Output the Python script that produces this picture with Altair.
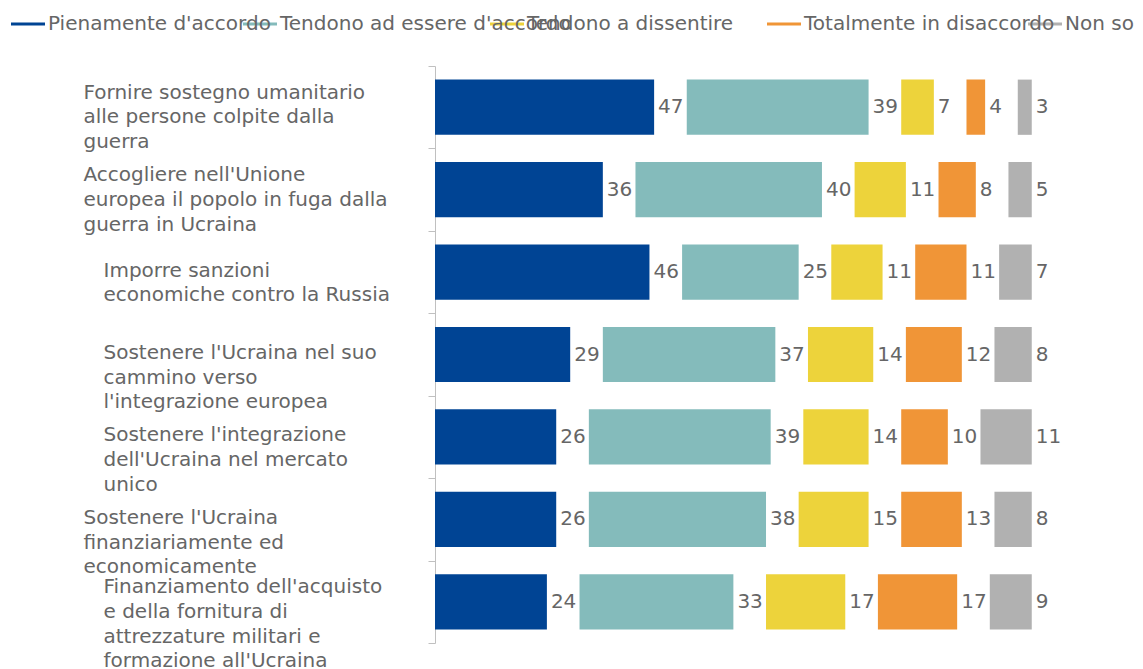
import json
import altair as alt
import pandas as pd

categories = [
    "Fornire sostegno umanitario\nalle persone colpite dalla\nguerra",
    "Accogliere nell'Unione\neuropea il popolo in fuga dalla\nguerra in Ucraina",
    "Imporre sanzioni\neconomiche contro la Russia",
    "Sostenere l'Ucraina nel suo\ncammino verso\nl'integrazione europea",
    "Sostenere l'integrazione\ndell'Ucraina nel mercato\nunico",
    "Sostenere l'Ucraina\nfinanziariamente ed\neconomicamente",
    "Finanziamento dell'acquisto\ne della fornitura di\nattrezzature militari e\nformazione all'Ucraina",
]
series = [
    "Pienamente d'accordo",
    "Tendono ad essere d'accordo",
    "Tendono a dissentire",
    "Totalmente in disaccordo",
    "Non so",
]
pienamente = [47, 36, 46, 29, 26, 26, 24]
tendono_accordo = [39, 40, 25, 37, 39, 38, 33]
tendono_dissentire = [7, 11, 11, 14, 14, 15, 17]
totalmente_disaccordo = [4, 8, 11, 12, 10, 13, 17]
non_so = [3, 5, 7, 8, 11, 8, 9]
colors = ["#004494", "#84bbbb", "#edd33b", "#f09537", "#b1b1b1"]

GAP = 7  # blank space left after each segment for its value label (value units)

values_by_series = [pienamente, tendono_accordo, tendono_dissentire, totalmente_disaccordo, non_so]
rows = []
for i, cat in enumerate(categories):
    start = 0
    for k, name in enumerate(series):
        v = values_by_series[k][i]
        rows.append({"cat": cat, "serie": name, "order": k, "value": v, "x0": start, "x1": start + v})
        start += v + GAP
df = pd.DataFrame(rows)
legend_df = pd.DataFrame({"serie": series, "order": list(range(len(series)))})

indented = [categories[2], categories[3], categories[4], categories[6]]
raised = [categories[0], categories[1], categories[6]]
test_indent = f"indexof({json.dumps(indented)}, datum.value) >= 0"
test_raised = f"indexof({json.dumps(raised)}, datum.value) >= 0"

FONT = "DejaVu Sans"
TEXT = "#666666"

y = alt.Y(
    "cat:N",
    sort=categories,
    title=None,
    scale=alt.Scale(paddingInner=0, paddingOuter=0),
    axis=alt.Axis(
        domainColor="#c0c0c0",
        tickColor="#c0c0c0",
        tickSize=7,
        tickBand="extent",
        labelAlign="left",
        labelBaseline="middle",
        labelFont=FONT,
        labelFontSize=20,
        labelColor=TEXT,
        labelLineHeight=24.7,
        labelLimit=500,
        labelExpr="split(datum.label, '\\n')",
        labelPadding={"condition": {"test": test_indent, "value": 325}, "value": 345},
        labelOffset={"condition": {"test": test_raised, "value": -15}, "value": -2},
    ),
)

x_scale = alt.Scale(domain=[0, 148])
color = alt.Color(
    "serie:N",
    sort=series,
    scale=alt.Scale(domain=series, range=colors),
    legend=None,
)

bars = alt.Chart(df).mark_bar(height={"band": 0.67}).encode(
    x=alt.X("x0:Q", scale=x_scale, axis=None),
    x2="x1:Q",
    y=y,
    color=color,
)

labels = alt.Chart(df).mark_text(
    align="left", baseline="middle", dx=4, font=FONT, fontSize=20, color=TEXT
).encode(
    x=alt.X("x1:Q", scale=x_scale, axis=None),
    y=y,
    text="value:Q",
)

# legend row at the top (entries spaced as in the original, overlapping)
legend_x = alt.X(
    "order:Q",
    scale=alt.Scale(domain=[0, 1, 2, 3, 4], range=[-424, -192, 55, 332, 593]),
    axis=None,
)
legend_lines = alt.Chart(legend_df).mark_rule(strokeWidth=3, x2Offset=34).encode(
    x=legend_x,
    x2="order:Q",
    y=alt.value(-42),
    color=color,
)
legend_text = alt.Chart(legend_df).mark_text(
    align="left", baseline="middle", dx=37, font=FONT, fontSize=20, color=TEXT
).encode(
    x=legend_x,
    y=alt.value(-42),
    text="serie:N",
)

chart = (
    alt.layer(bars, labels, legend_lines, legend_text)
    .resolve_scale(x="independent")
    .properties(
        width=690,
        height=577,
        autosize=alt.AutoSizeParams(type="none"),
        padding={"left": 427, "top": 58, "right": 10, "bottom": 26},
    )
    .configure_view(stroke=None)
)

chart.save("out.html", embed_options={"renderer": "svg", "actions": False})
